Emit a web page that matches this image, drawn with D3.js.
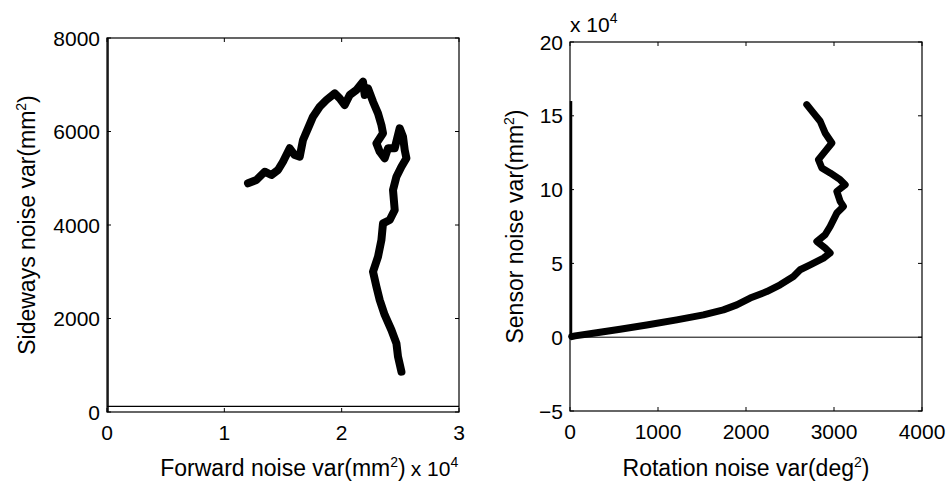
<!DOCTYPE html>
<html>
<head>
<meta charset="utf-8">
<script src="https://cdn.jsdelivr.net/npm/d3@7"></script>
<style>
  body { margin: 0; background: #fff; }
  text { font-family: "Liberation Sans", Arial, sans-serif; fill: #000; }
</style>
</head>
<body>
<div id="wrapper"></div>
<script>
// left panel: forward vs sideways noise variance
const forwardVar = [12017, 12733, 13441, 14012, 14574, 15000, 15572, 15998, 16424, 16705,
  17131, 17557, 18128, 18700, 19407, 19833, 20259, 20685, 21256, 21819,
  21964, 22245, 22671, 23097, 23387, 23523, 22961, 23242, 23668, 23950,
  24521, 24947, 25228, 25373, 25518, 25092, 24666, 24376, 24521, 24095,
  23523, 23387, 23097, 22671, 22961, 23242, 23668, 24239, 24666, 24802, 25092];
const sidewaysVar = [4892, 4962, 5140, 5069, 5176, 5354, 5641, 5497, 5461, 5818,
  6068, 6317, 6530, 6674, 6817, 6710, 6567, 6781, 6888, 7065,
  6781, 6924, 6637, 6389, 6139, 5961, 5747, 5568, 5427, 5641,
  5641, 6068, 5889, 5604, 5427, 5247, 5033, 4749, 4321, 4107,
  4036, 3679, 3322, 3001, 2680, 2396, 2075, 1754, 1469, 1183, 862];

// right panel: rotation vs sensor noise variance
const rotationVar = [2691, 2766, 2843, 2899, 2976, 2899, 2823, 2862, 2956, 3070,
  3127, 3032, 3070, 3107, 3032, 2956, 2899, 2805, 2899, 2956,
  2880, 2729, 2615, 2539, 2388, 2236, 2047, 1895, 1743, 1516,
  1213, 872, 569, 265, 57, 19];
const sensorVar = [157600, 152000, 146300, 138400, 131600, 125900, 120300, 114600, 111300, 106700,
  103300, 98800, 92000, 88600, 84100, 75000, 69400, 64900, 60400, 57000,
  53600, 49000, 45700, 41100, 35500, 30900, 26500, 21900, 18500, 15100,
  11700, 8300, 5400, 2700, 900, 400];

const leftXTicks = [0, 10000, 20000, 30000];
const leftYTicks = [0, 2000, 4000, 6000, 8000];
const rightXTicks = [0, 1000, 2000, 3000, 4000];
const rightYTicks = [-50000, 0, 50000, 100000, 150000, 200000];

const dimensions = { width: 948, height: 484 };
const tickFont = 21, labelFont = 23, supFont = 14;

const svg = d3.select("#wrapper").append("svg")
  .attr("width", dimensions.width)
  .attr("height", dimensions.height);

function panel(opts) {
  const x = d3.scaleLinear().domain(opts.xDomain).range([opts.left, opts.right]);
  const y = d3.scaleLinear().domain(opts.yDomain).range([opts.bottom, opts.top]);
  const g = svg.append("g");

  // extra reference lines
  opts.extras(g, x, y);

  // data curve
  const pts = d3.zip(opts.xs, opts.ys);
  g.append("path")
    .datum(pts)
    .attr("fill", "none")
    .attr("stroke", "#000")
    .attr("stroke-width", opts.lineW)
    .attr("stroke-linejoin", "round")
    .attr("stroke-linecap", "round")
    .attr("d", d3.line().x(d => x(d[0])).y(d => y(d[1])));

  // box
  g.append("rect")
    .attr("x", opts.left).attr("y", opts.top)
    .attr("width", opts.right - opts.left).attr("height", opts.bottom - opts.top)
    .attr("fill", "none").attr("stroke", "#000").attr("stroke-width", 1.2);

  // inward ticks, all four sides
  const tl = 4;
  opts.xTicks.forEach(t => {
    g.append("line").attr("x1", x(t)).attr("x2", x(t)).attr("y1", opts.bottom).attr("y2", opts.bottom - tl).attr("stroke", "#000");
    g.append("line").attr("x1", x(t)).attr("x2", x(t)).attr("y1", opts.top).attr("y2", opts.top + tl).attr("stroke", "#000");
    g.append("text").attr("x", x(t)).attr("y", opts.bottom + 28)
      .attr("text-anchor", "middle").attr("font-size", tickFont).text(opts.xFmt(t));
  });
  opts.yTicks.forEach(t => {
    g.append("line").attr("y1", y(t)).attr("y2", y(t)).attr("x1", opts.left).attr("x2", opts.left + tl).attr("stroke", "#000");
    g.append("line").attr("y1", y(t)).attr("y2", y(t)).attr("x1", opts.right).attr("x2", opts.right - tl).attr("stroke", "#000");
    g.append("text").attr("x", opts.left - 7).attr("y", y(t)).attr("dy", "0.36em")
      .attr("text-anchor", "end").attr("font-size", tickFont).text(opts.yFmt(t));
  });

  // axis labels
  const xl = g.append("text").attr("x", (opts.left + opts.right) / 2).attr("y", 476)
    .attr("text-anchor", "middle").attr("font-size", labelFont);
  xl.append("tspan").text(opts.xLabel);
  xl.append("tspan").attr("dy", -9).attr("font-size", supFont).text("2");
  xl.append("tspan").attr("dy", 9).text(")");

  const cy = (opts.top + opts.bottom) / 2;
  const yl = g.append("text")
    .attr("transform", `translate(${opts.yLabelX},${cy}) rotate(-90)`)
    .attr("text-anchor", "middle").attr("font-size", labelFont);
  yl.append("tspan").text(opts.yLabel);
  yl.append("tspan").attr("dy", -9).attr("font-size", supFont).text("2");
  yl.append("tspan").attr("dy", 9).text(")");

  return { g, x, y, xl };
}

const leftP = panel({
  left: 107, right: 459, top: 38, bottom: 412,
  xDomain: [0, 30000], yDomain: [0, 8000],
  xs: forwardVar, ys: sidewaysVar, lineW: 8,
  xTicks: leftXTicks, yTicks: leftYTicks,
  xFmt: d => d / 10000, yFmt: d => d,
  xLabel: "Forward noise var(mm", yLabel: "Sideways noise var(mm",
  yLabelX: 35,
  extras: (g, x, y) => {
    g.append("line").attr("x1", x(0)).attr("x2", x(30000)).attr("y1", y(120)).attr("y2", y(120))
      .attr("stroke", "#000").attr("stroke-width", 1.2);
    g.append("line").attr("x1", x(0) + 1).attr("x2", x(0) + 1).attr("y1", y(0)).attr("y2", y(8000))
      .attr("stroke", "#000").attr("stroke-width", 1.5);
  }
});

// "x 10^4" multiplier for left x axis, right after the label
const lbox = leftP.xl.node().getBBox();
const lm = leftP.g.append("text").attr("x", lbox.x + lbox.width + 5).attr("y", 476).attr("font-size", tickFont);
lm.append("tspan").text("x 10");
lm.append("tspan").attr("dy", -9).attr("font-size", supFont).text("4");

const rightP = panel({
  left: 570, right: 922, top: 42, bottom: 411,
  xDomain: [0, 4000], yDomain: [-50000, 200000],
  xs: rotationVar, ys: sensorVar, lineW: 7,
  xTicks: rightXTicks, yTicks: rightYTicks,
  xFmt: d => d, yFmt: d => d < 0 ? "\u2212" + (-d / 10000) : d / 10000,
  xLabel: "Rotation noise var(deg", yLabel: "Sensor noise var(mm",
  yLabelX: 523,
  extras: (g, x, y) => {
    g.append("line").attr("x1", x(0)).attr("x2", x(4000)).attr("y1", y(0)).attr("y2", y(0))
      .attr("stroke", "#000").attr("stroke-width", 1);
    g.append("line").attr("x1", x(0) + 1).attr("x2", x(0) + 1).attr("y1", y(0)).attr("y2", y(160000))
      .attr("stroke", "#000").attr("stroke-width", 2.5);
  }
});

// "x 10^4" multiplier for right y axis
const rm = rightP.g.append("text").attr("x", 570).attr("y", 32).attr("font-size", tickFont);
rm.append("tspan").text("x 10");
rm.append("tspan").attr("dy", -9).attr("font-size", supFont).text("4");
</script>
</body>
</html>
